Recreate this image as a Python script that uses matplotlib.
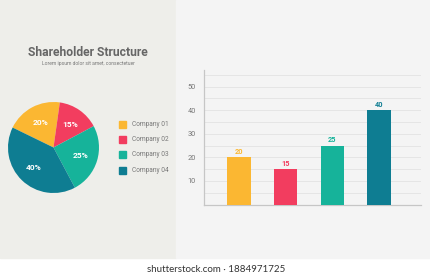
import matplotlib.pyplot as plt
from matplotlib.patches import Rectangle

companies = ["Company 01", "Company 02", "Company 03", "Company 04"]
shares = [20, 15, 25, 40]
colors = ["#fbb732", "#f23d5f", "#16b39a", "#0e7d92"]
yticks = [10, 20, 30, 40, 50]

W, H = 430, 280
fig = plt.figure(figsize=(W / 100, H / 100), dpi=100)
fig.patch.set_facecolor("white")
plt.rcParams["font.family"] = ["Roboto", "DejaVu Sans"]


def px(x, y, w, h):
    # pixel box (top-left origin) -> figure fraction
    return [x / W, 1 - (y + h) / H, w / W, h / H]


# background panels
fig.patches.append(Rectangle((0, 1 - 258 / H), 176 / W, 258 / H,
                             transform=fig.transFigure, color="#eeeeea", zorder=-10))
fig.patches.append(Rectangle((176 / W, 1 - 258 / H), 1 - 176 / W, 258 / H,
                             transform=fig.transFigure, color="#f4f4f4", zorder=-10))

# titles
fig.text(88 / W, 1 - 53 / H, "Shareholder Structure", ha="center", va="center",
         fontsize=8.7, fontweight="bold", color="#666666")
fig.text(88 / W, 1 - 63 / H, "Lorem ipsum dolor sit amet, consectetuer", ha="center",
         va="center", fontsize=3.6, color="#777777")

# pie
ax1 = fig.add_axes(px(8, 102, 91, 91))
wedges, texts, autotexts = ax1.pie(shares, colors=colors, startangle=154, counterclock=False,
                                   autopct="%d%%", pctdistance=0.62,
                                   textprops=dict(color="white", fontsize=6, fontweight="bold"))
ax1.set_xlim(-1, 1)
ax1.set_ylim(-1, 1)
ax1.set_aspect("equal")

# legend
for i, (name, c) in enumerate(zip(companies, colors)):
    y = 124.5 + 15.2 * i
    fig.patches.append(Rectangle((119 / W, 1 - (y + 3.5) / H), 7 / W, 7 / H,
                                 transform=fig.transFigure, color=c))
    fig.text(132 / W, 1 - y / H, name, ha="left", va="center", fontsize=4.7, color="#777777")

# bar chart
ax2 = fig.add_axes(px(204, 70, 217, 134.5))
ax2.set_facecolor("none")
ax2.bar(range(len(shares)), shares, width=0.5, color=colors, zorder=3)
for i, v in enumerate(shares):
    ax2.text(i, v + 0.6, str(v), ha="center", va="bottom", fontsize=5.3, fontweight="bold",
             color=colors[i])
ax2.set_xlim(-0.75, 3.9)
ax2.set_ylim(0, 57)
ax2.set_yticks(range(5, 56, 5), minor=False)
ax2.set_yticklabels(["" if t not in yticks else str(t) for t in range(5, 56, 5)])
ax2.yaxis.grid(True, color="#e3e3e3", linewidth=0.6)
ax2.set_xticks([])
ax2.tick_params(axis="y", length=0, labelsize=5.3, labelcolor="#777777", pad=6)
for s in ["top", "right"]:
    ax2.spines[s].set_visible(False)
for s in ["left", "bottom"]:
    ax2.spines[s].set_color("#c6c6c6")
    ax2.spines[s].set_linewidth(0.9)

# watermark
fig.text(216 / W, 1 - 270 / H, "shutterstock.com \u00b7 1884971725", ha="center", va="center",
         fontsize=7, color="#333333", family=["Lato", "DejaVu Sans"])

fig.savefig("out.png", dpi=100, facecolor=fig.get_facecolor())
